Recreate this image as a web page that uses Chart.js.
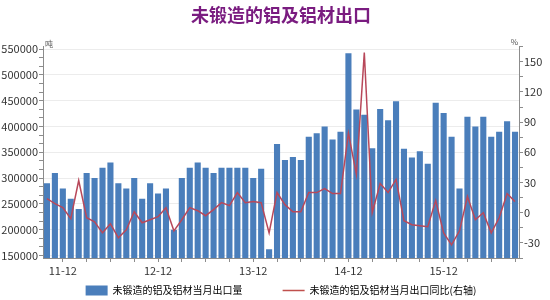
<!DOCTYPE html>
<html lang="zh">
<head>
<meta charset="UTF-8">
<title>未锻造的铝及铝材出口</title>
<script src="https://cdn.jsdelivr.net/npm/chart.js@4.4.1/dist/chart.umd.min.js"></script>
<style>
  html, body { margin: 0; padding: 0; background: #fff; }
</style>
</head>
<body>
<canvas id="chart" width="550" height="300"></canvas>
<script>
// months 2011-10 .. 2016-09
const months = [
  '11-10','11-11','11-12','12-01','12-02','12-03','12-04','12-05','12-06','12-07','12-08','12-09',
  '12-10','12-11','12-12','13-01','13-02','13-03','13-04','13-05','13-06','13-07','13-08','13-09',
  '13-10','13-11','13-12','14-01','14-02','14-03','14-04','14-05','14-06','14-07','14-08','14-09',
  '14-10','14-11','14-12','15-01','15-02','15-03','15-04','15-05','15-06','15-07','15-08','15-09',
  '15-10','15-11','15-12','16-01','16-02','16-03','16-04','16-05','16-06','16-07','16-08','16-09'
];
// 当月出口量 (吨)
const exportTons = [
  290000,310000,280000,260000,240000,310000,300000,320000,330000,290000,280000,300000,
  260000,290000,270000,280000,200000,300000,320000,330000,320000,310000,320000,320000,
  320000,320000,300000,318000,162000,366000,335000,341000,335000,380000,387000,400000,
  375000,390000,542000,433000,423000,358000,434000,412000,449000,357000,340000,352000,
  328000,446000,426000,380000,280000,419000,400000,419000,380000,390000,410000,390000
];
// 当月出口同比 (%)
const exportYoy = [
  14,9,5,-6,32,-5,-9,-20,-11,-25,-17,1,
  -10,-7,-4,5,-18,-7,5,2,-3,3,10,7,
  20,10,11,10,-20,20,8,1,1,20,20,24,
  19,19,79,38,159,0,29,20,33,-8,-12,-13,
  -14,12,-20,-32,-18,16,-7,0,-20,-5,19,11
];
const leftTicks = [150000,200000,250000,300000,350000,400000,450000,500000,550000];
const rightTicks = [-30,0,30,60,90,120,150];

const barName = '未锻造的铝及铝材当月出口量';
const lineName = '未锻造的铝及铝材当月出口同比(右轴)';
const FONT = '"Noto Sans CJK SC", "Noto Sans", sans-serif';
const AXIS = '#8c8c8c';

const unitLabels = {
  id: 'unitLabels',
  afterDraw(chart) {
    const { ctx, chartArea } = chart;
    ctx.save();
    ctx.fillStyle = '#555';
    ctx.font = '8px ' + FONT;
    ctx.textBaseline = 'bottom';
    ctx.textAlign = 'left';
    ctx.fillText('吨', chartArea.left + 2, chartArea.top + 1);
    ctx.textAlign = 'right';
    ctx.fillText('%', chartArea.right - 1, chartArea.top - 1);
    ctx.restore();
  }
};

// legend: wide gap between items without the tall box that label padding brings
const legendFix = {
  id: 'legendFix',
  afterInit(chart) {
    const lg = chart.legend;
    const fit = lg.fit;
    lg.fit = function () { fit.call(this); this.height = 20; };
  },
  afterLayout(chart) {
    const lg = chart.legend;
    lg.top -= lg.options.labels.padding - 5.5;
  }
};

new Chart(document.getElementById('chart'), {
  type: 'bar',
  data: {
    labels: months,
    datasets: [{
      type: 'bar',
      label: barName,
      data: exportTons,
      yAxisID: 'y',
      backgroundColor: '#4a7ebb',
      barPercentage: 0.77,
      categoryPercentage: 1,
      order: 1
    }, {
      type: 'line',
      label: lineName,
      data: exportYoy,
      yAxisID: 'y1',
      borderColor: '#b8485a',
      borderWidth: 1.5,
      pointRadius: 0,
      tension: 0,
      order: 0
    }]
  },
  options: {
    responsive: false,
    animation: false,
    layout: { padding: 0 },
    scales: {
      x: {
        offset: true,
        border: { color: AXIS },
        grid: {
          offset: false,
          drawOnChartArea: false,
          tickLength: 4,
          tickColor: c => (c.index % 3 === 2 ? AXIS : 'rgba(0,0,0,0)')
        },
        ticks: {
          autoSkip: false,
          maxRotation: 0,
          padding: 2,
          color: '#333',
          font: { family: FONT, size: 11 },
          callback: (v, i) => (i % 12 === 2 ? months[i] : '')
        },
        afterFit: s => { s.height = 22; }
      },
      y: {
        position: 'left',
        min: 145000,
        max: 555000,
        border: { color: AXIS },
        afterBuildTicks: s => {
          const t = [];
          for (let i = 0; i < leftTicks.length; i++) {
            t.push({ value: leftTicks[i] });
            if (i < leftTicks.length - 1) {
              const step = (leftTicks[i + 1] - leftTicks[i]) / 3;
              t.push({ value: leftTicks[i] + step });
              t.push({ value: leftTicks[i] + 2 * step });
            }
          }
          s.ticks = t;
        },
        grid: {
          tickLength: 4,
          tickColor: AXIS,
          color: c => (c.tick && leftTicks.includes(c.tick.value) ? '#ececec' : 'rgba(0,0,0,0)')
        },
        ticks: {
          autoSkip: false,
          padding: 1,
          color: '#333',
          font: { family: FONT, size: 11 },
          callback: v => (leftTicks.includes(v) ? String(v) : '')
        },
        afterFit: s => { s.width = 43; }
      },
      y1: {
        position: 'right',
        min: -45,
        max: 165,
        border: { color: AXIS },
        afterBuildTicks: s => {
          const t = [];
          t.push({ value: rightTicks[0] - 15 });
          for (let i = 0; i < rightTicks.length; i++) {
            t.push({ value: rightTicks[i] });
            t.push({ value: rightTicks[i] + 15 });
          }
          s.ticks = t;
        },
        grid: {
          drawOnChartArea: false,
          tickLength: 4,
          tickColor: AXIS
        },
        ticks: {
          autoSkip: false,
          padding: 1,
          color: '#333',
          font: { family: FONT, size: 11 },
          callback: v => (rightTicks.includes(v) ? String(v) : '')
        },
        afterFit: s => { s.width = 31; }
      }
    },
    plugins: {
      title: {
        display: true,
        fullSize: false,
        text: '未锻造的铝及铝材出口',
        color: '#7a1c80',
        font: { family: FONT, size: 18, weight: 'bold' },
        padding: { top: 4, bottom: 21 }
      },
      legend: {
        position: 'bottom',
        fullSize: false,
        labels: {
          usePointStyle: true,
          pointStyleWidth: 22,
          boxHeight: 11,
          padding: 40,
          color: '#333',
          font: { family: FONT, size: 10 },
          generateLabels: () => [
            { text: barName, pointStyle: 'rect', fillStyle: '#4a7ebb', strokeStyle: '#4a7ebb', lineWidth: 0, datasetIndex: 0 },
            { text: lineName, pointStyle: 'line', fillStyle: '#c0504d', strokeStyle: '#c0504d', lineWidth: 1.5, datasetIndex: 1 }
          ]
        }
      },
      tooltip: { enabled: false }
    }
  },
  plugins: [unitLabels, legendFix]
});
</script>
</body>
</html>
